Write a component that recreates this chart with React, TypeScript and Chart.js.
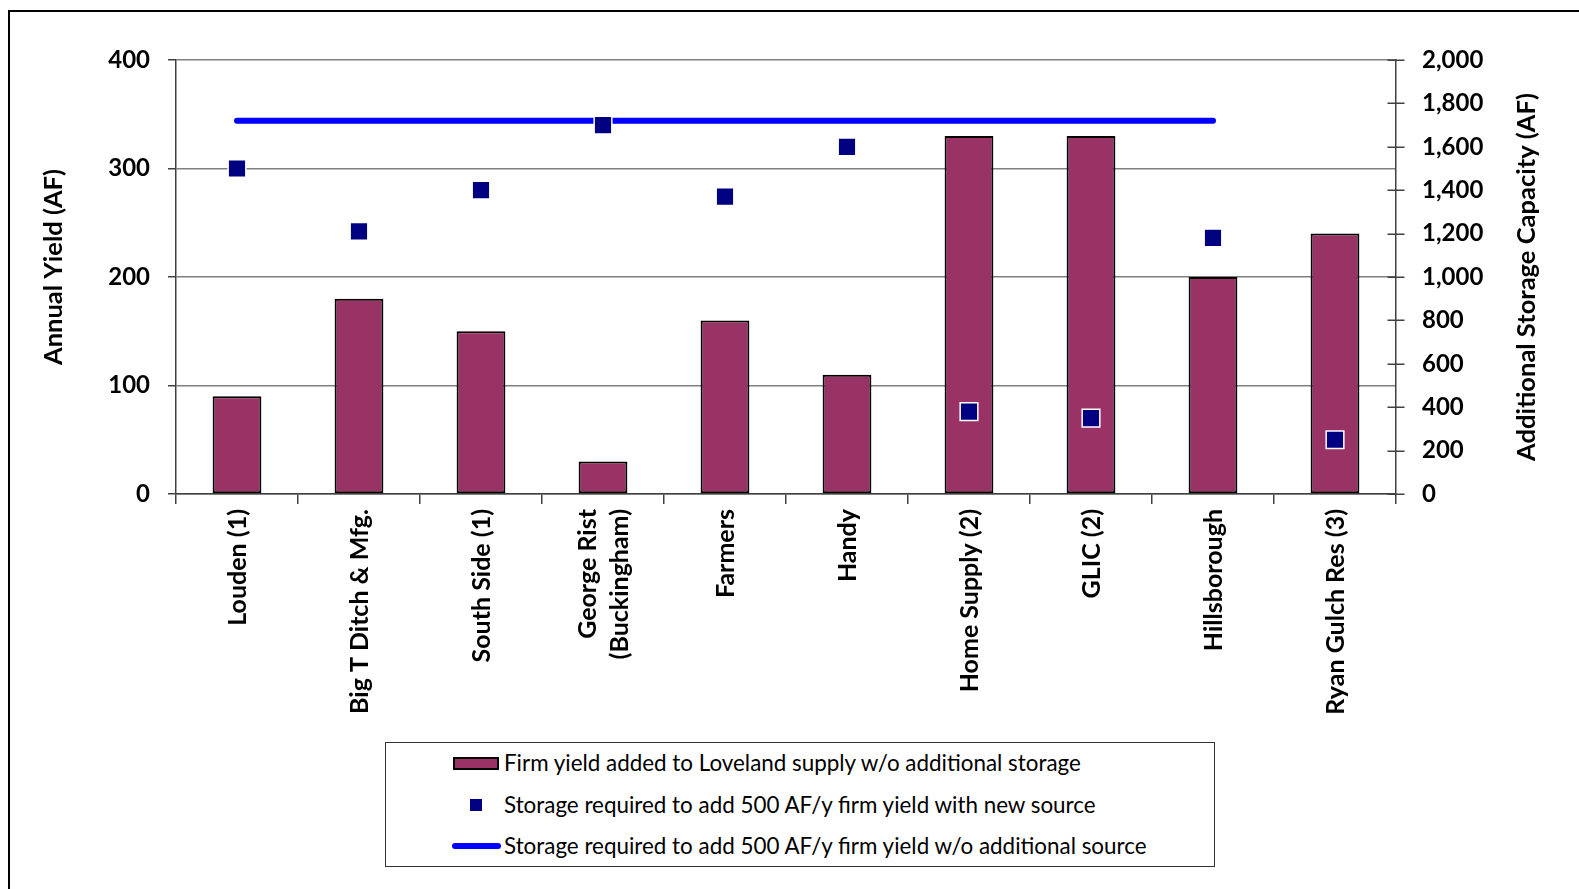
import React, { useEffect, useRef } from "react";
import { Chart, registerables } from "chart.js";

Chart.register(...registerables);

// Sources evaluated
const categories: (string | string[])[] = [
  "Louden (1)",
  "Big T Ditch & Mfg.",
  "South Side (1)",
  ["George Rist", "(Buckingham)"],
  "Farmers",
  "Handy",
  "Home Supply (2)",
  "GLIC (2)",
  "Hillsborough",
  "Ryan Gulch Res (3)",
];

// Annual firm yield (AF) – left axis
const firmYield = [90, 180, 150, 30, 160, 110, 330, 330, 200, 240];

// Storage needed for 500 AF/y with a new source (AF) – right axis
const storageWithSource = [1500, 1210, 1400, 1700, 1370, 1600, 380, 350, 1180, 250];

// Storage needed for 500 AF/y without an additional source (AF) – right axis
const storageWithoutSource = [1720, 1720, 1720, 1720, 1720, 1720, 1720, 1720, 1720, null];

const seriesLabels = [
  "Firm yield added to Loveland supply w/o additional storage",
  "Storage required to add 500 AF/y firm yield with new source",
  "Storage required to add 500 AF/y firm yield w/o additional source",
];

const axisTitles = ["Annual Yield (AF)", "Additional Storage Capacity (AF)"];

const leftTicks = { min: 0, max: 400, step: 100 };
const rightTicks = { min: 0, max: 2000, step: 200 };

const BAR_COLOR = "#993366";
const POINT_COLOR = "#000080";
const LINE_COLOR = "#0000FF";
const FONT = "Lato";

// Short tick marks that cross the secondary axis line
const crossTicks = {
  id: "crossTicks",
  beforeDatasetsDraw(chart: any) {
    const s = chart.scales.y1;
    const ctx = chart.ctx;
    ctx.save();
    ctx.strokeStyle = "#404040";
    ctx.lineWidth = 1.5;
    s.ticks.forEach((t: any) => {
      const y = Math.round(s.getPixelForValue(t.value)) + 0.25;
      ctx.beginPath();
      ctx.moveTo(s.left - 8.5, y);
      ctx.lineTo(s.left + 8.5, y);
      ctx.stroke();
    });
    ctx.restore();
  },
};

// Vertical category labels (multi-line ones centred on their tick) and the
// two axis titles, all reading bottom-to-top
const verticalText = {
  id: "verticalText",
  afterDraw(chart: any) {
    const ctx = chart.ctx;
    const x = chart.scales.x;
    const area = chart.chartArea;
    const lineH = 32;
    ctx.save();
    ctx.fillStyle = "#000";
    ctx.font = `bold 25px ${FONT}`;
    ctx.textAlign = "right";
    ctx.textBaseline = "middle";
    categories.forEach((c, i) => {
      const lines = Array.isArray(c) ? c : [c];
      const px = x.getPixelForTick(i);
      ctx.save();
      ctx.translate(px + 1, x.top + 15);
      ctx.rotate(-Math.PI / 2);
      lines.forEach((ln, k) => {
        ctx.fillText(ln, 0, (k - (lines.length - 1) / 2) * lineH);
      });
      ctx.restore();
    });

    ctx.font = `bold 25.5px ${FONT}`;
    ctx.textAlign = "center";
    const mid = (area.top + area.bottom) / 2;
    const titlePos = [
      [54, mid - 10],
      [1527, mid],
    ];
    axisTitles.forEach((t, i) => {
      ctx.save();
      ctx.translate(titlePos[i][0], titlePos[i][1]);
      ctx.rotate(-Math.PI / 2);
      ctx.fillText(t, 0, 0);
      ctx.restore();
    });
    ctx.restore();
  },
};

function ChartCanvas() {
  const ref = useRef<HTMLCanvasElement | null>(null);

  useEffect(() => {
    if (!ref.current) return;
    Chart.defaults.font.family = FONT;
    const chart = new Chart(ref.current, {
      type: "bar",
      data: {
        labels: categories,
        datasets: [
          {
            type: "line",
            label: seriesLabels[1],
            data: storageWithSource,
            yAxisID: "y1",
            showLine: false,
            pointStyle: "rect",
            pointRadius: 12.5,
            pointHoverRadius: 12.5,
            backgroundColor: POINT_COLOR,
            borderColor: "#ffffff",
            borderWidth: 1.5,
            order: 1,
          },
          {
            type: "line",
            label: seriesLabels[2],
            data: storageWithoutSource,
            yAxisID: "y1",
            borderColor: LINE_COLOR,
            borderWidth: 6,
            borderCapStyle: "round",
            pointRadius: 0,
            spanGaps: false,
            order: 2,
          },
          {
            type: "bar",
            label: seriesLabels[0],
            data: firmYield,
            yAxisID: "y",
            backgroundColor: BAR_COLOR,
            borderColor: "#000000",
            borderWidth: 2,
            borderSkipped: false,
            categoryPercentage: 1,
            barPercentage: 0.4,
            order: 3,
          },
        ],
      },
      options: {
        responsive: false,
        animation: false,
        events: [],
        layout: { padding: { left: 0, right: 0, top: 60, bottom: 0 } },
        plugins: {
          legend: { display: false },
          tooltip: { enabled: false },
        },
        scales: {
          x: {
            type: "category",
            offset: true,
            grid: {
              offset: true,
              drawOnChartArea: false,
              drawTicks: true,
              tickLength: 10,
              color: "#404040",
              lineWidth: 1.5,
            },
            border: { color: "#404040", width: 1.5 },
            ticks: { display: false },
            afterFit(scale: any) {
              scale.height = 889 - 494;
            },
          },
          y: {
            position: "left",
            min: leftTicks.min,
            max: leftTicks.max,
            grid: {
              color: "#808080",
              lineWidth: 1.5,
              tickLength: 8,
              tickColor: "#404040",
            },
            border: { color: "#404040", width: 1.5 },
            ticks: {
              stepSize: leftTicks.step,
              padding: 18,
              color: "#000",
              font: { family: FONT, size: 24, weight: "bold" },
            },
            afterFit(scale: any) {
              scale.width = 176;
            },
          },
          y1: {
            position: "right",
            min: rightTicks.min,
            max: rightTicks.max,
            grid: { drawOnChartArea: false, drawTicks: false },
            border: { color: "#404040", width: 1.5 },
            ticks: {
              stepSize: rightTicks.step,
              padding: 26,
              color: "#000",
              font: { family: FONT, size: 24, weight: "bold" },
              callback: (v: any) => Number(v).toLocaleString("en-US"),
            },
            afterFit(scale: any) {
              scale.width = 1579 - 1396;
            },
          },
        },
      },
      plugins: [crossTicks, verticalText],
    });
    return () => chart.destroy();
  }, []);

  return (
    <canvas
      ref={ref}
      width={1579}
      height={889}
      style={{ position: "absolute", left: 0, top: 0, width: 1579, height: 889 }}
    />
  );
}

function Legend() {
  const rowTops = [7, 49, 90];
  const textStyle: React.CSSProperties = {
    position: "absolute",
    left: 118,
    fontFamily: FONT,
    fontSize: 22.4,
    lineHeight: "26px",
    color: "#000",
    whiteSpace: "nowrap",
  };
  return (
    <div
      style={{
        position: "absolute",
        left: 385,
        top: 742,
        width: 828,
        height: 123,
        border: "1px solid #333",
        background: "#fff",
        boxSizing: "content-box",
      }}
    >
      {/* bar swatch */}
      <div
        style={{
          position: "absolute",
          left: 67,
          top: 14,
          width: 42,
          height: 9,
          background: BAR_COLOR,
          border: "2px solid #000",
        }}
      />
      <div style={{ ...textStyle, top: rowTops[0] }}>{seriesLabels[0]}</div>
      {/* point swatch */}
      <div
        style={{
          position: "absolute",
          left: 84,
          top: 56,
          width: 12,
          height: 12,
          background: POINT_COLOR,
        }}
      />
      <div style={{ ...textStyle, top: rowTops[1] }}>{seriesLabels[1]}</div>
      {/* line swatch */}
      <div
        style={{
          position: "absolute",
          left: 66,
          top: 100,
          width: 49,
          height: 6,
          borderRadius: 3,
          background: LINE_COLOR,
        }}
      />
      <div style={{ ...textStyle, top: rowTops[2] }}>{seriesLabels[2]}</div>
    </div>
  );
}

export default function App() {
  return (
    <div
      style={{
        position: "absolute",
        left: 0,
        top: 0,
        width: 1579,
        height: 889,
        overflow: "hidden",
        background: "#fff",
      }}
    >
      <div
        style={{
          position: "absolute",
          left: 8,
          top: 10,
          width: 1700,
          height: 1000,
          borderLeft: "2px solid #000",
          borderTop: "2px solid #000",
        }}
      />
      <ChartCanvas />
      <Legend />
    </div>
  );
}
